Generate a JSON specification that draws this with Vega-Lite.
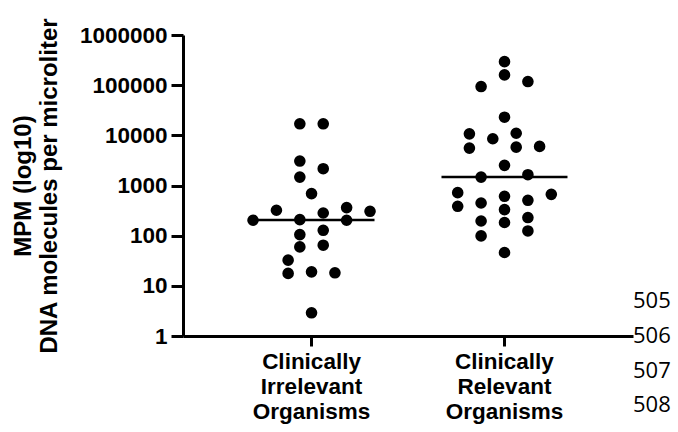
{
  "$schema": "https://vega.github.io/schema/vega-lite/v6.json",
  "width": 450,
  "height": 301,
  "autosize": "none",
  "padding": {"left": 183, "top": 35, "right": 45, "bottom": 96},
  "background": "white",
  "config": {"view": {"stroke": null}, "font": "Liberation Sans"},
  "datasets": {
    "points": [
      {"group": "Clinically Irrelevant Organisms", "col": -1, "mpm": 17000},
      {"group": "Clinically Irrelevant Organisms", "col": -1, "mpm": 3070},
      {"group": "Clinically Irrelevant Organisms", "col": -1, "mpm": 1470},
      {"group": "Clinically Irrelevant Organisms", "col": -1, "mpm": 209},
      {"group": "Clinically Irrelevant Organisms", "col": -1, "mpm": 105},
      {"group": "Clinically Irrelevant Organisms", "col": -1, "mpm": 59.7},
      {"group": "Clinically Irrelevant Organisms", "col": 1, "mpm": 17000},
      {"group": "Clinically Irrelevant Organisms", "col": 1, "mpm": 2160},
      {"group": "Clinically Irrelevant Organisms", "col": 1, "mpm": 283},
      {"group": "Clinically Irrelevant Organisms", "col": 1, "mpm": 128},
      {"group": "Clinically Irrelevant Organisms", "col": 1, "mpm": 64.5},
      {"group": "Clinically Irrelevant Organisms", "col": 0, "mpm": 689},
      {"group": "Clinically Irrelevant Organisms", "col": 0, "mpm": 19},
      {"group": "Clinically Irrelevant Organisms", "col": 0, "mpm": 2.9},
      {"group": "Clinically Irrelevant Organisms", "col": -3, "mpm": 321},
      {"group": "Clinically Irrelevant Organisms", "col": 3, "mpm": 363},
      {"group": "Clinically Irrelevant Organisms", "col": 3, "mpm": 203},
      {"group": "Clinically Irrelevant Organisms", "col": 5, "mpm": 306},
      {"group": "Clinically Irrelevant Organisms", "col": -5, "mpm": 203},
      {"group": "Clinically Irrelevant Organisms", "col": -2, "mpm": 32.5},
      {"group": "Clinically Irrelevant Organisms", "col": -2, "mpm": 17.7},
      {"group": "Clinically Irrelevant Organisms", "col": 2, "mpm": 18.2},
      {"group": "Clinically Relevant Organisms", "col": 0, "mpm": 294000},
      {"group": "Clinically Relevant Organisms", "col": 0, "mpm": 160000},
      {"group": "Clinically Relevant Organisms", "col": 0, "mpm": 23000},
      {"group": "Clinically Relevant Organisms", "col": 0, "mpm": 2520},
      {"group": "Clinically Relevant Organisms", "col": 0, "mpm": 609},
      {"group": "Clinically Relevant Organisms", "col": 0, "mpm": 331},
      {"group": "Clinically Relevant Organisms", "col": 0, "mpm": 183},
      {"group": "Clinically Relevant Organisms", "col": 0, "mpm": 46.2},
      {"group": "Clinically Relevant Organisms", "col": -2, "mpm": 93800},
      {"group": "Clinically Relevant Organisms", "col": -2, "mpm": 1470},
      {"group": "Clinically Relevant Organisms", "col": -2, "mpm": 448},
      {"group": "Clinically Relevant Organisms", "col": -2, "mpm": 196},
      {"group": "Clinically Relevant Organisms", "col": -2, "mpm": 98.8},
      {"group": "Clinically Relevant Organisms", "col": 2, "mpm": 118000},
      {"group": "Clinically Relevant Organisms", "col": 2, "mpm": 1640},
      {"group": "Clinically Relevant Organisms", "col": 2, "mpm": 507},
      {"group": "Clinically Relevant Organisms", "col": 2, "mpm": 230},
      {"group": "Clinically Relevant Organisms", "col": 2, "mpm": 124},
      {"group": "Clinically Relevant Organisms", "col": -3, "mpm": 10700},
      {"group": "Clinically Relevant Organisms", "col": -3, "mpm": 5560},
      {"group": "Clinically Relevant Organisms", "col": 1, "mpm": 11000},
      {"group": "Clinically Relevant Organisms", "col": 1, "mpm": 5820},
      {"group": "Clinically Relevant Organisms", "col": -1, "mpm": 8550},
      {"group": "Clinically Relevant Organisms", "col": 3, "mpm": 6010},
      {"group": "Clinically Relevant Organisms", "col": -4, "mpm": 721},
      {"group": "Clinically Relevant Organisms", "col": -4, "mpm": 385},
      {"group": "Clinically Relevant Organisms", "col": 4, "mpm": 667}
    ],
    "lines": [
      {"n": 505},
      {"n": 506},
      {"n": 507},
      {"n": 508}
    ]
  },
  "layer": [
    {
      "data": {"name": "points"},
      "encoding": {
        "x": {
          "field": "group",
          "type": "nominal",
          "sort": ["Clinically Irrelevant Organisms", "Clinically Relevant Organisms"],
          "scale": {"paddingInner": 0, "paddingOuter": 0.166},
          "axis": {
            "title": null,
            "labelAngle": 0,
            "labelExpr": "split(datum.label, ' ')",
            "labelFont": "Liberation Sans",
            "labelFontWeight": "bold",
            "labelFontSize": 22.5,
            "labelLineHeight": 25,
            "labelColor": "black",
            "labelPadding": 4,
            "labelBaseline": "top",
            "domainColor": "black",
            "domainWidth": 3,
            "tickColor": "black",
            "tickWidth": 3,
            "tickSize": 10,
            "grid": false
          }
        },
        "y": {
          "field": "mpm",
          "type": "quantitative",
          "scale": {"type": "log", "domain": [1, 1000000], "nice": false},
          "axis": {
            "title": ["MPM (log10)", "DNA molecules per microliter"],
            "values": [1, 10, 100, 1000, 10000, 100000, 1000000],
            "format": "d",
            "grid": false,
            "domainColor": "black",
            "domainWidth": 3,
            "tickColor": "black",
            "tickWidth": 3,
            "tickSize": 12,
            "labelFont": "Liberation Sans",
            "labelFontWeight": "bold",
            "labelFontSize": 22.5,
            "labelColor": "black",
            "labelPadding": 4,
            "titleFont": "Liberation Sans",
            "titleFontWeight": "bold",
            "titleFontSize": 24,
            "titleColor": "black",
            "titleLineHeight": 26,
            "titlePadding": 18
          }
        }
      },
      "layer": [
        {
          "mark": {"type": "circle", "size": 135, "opacity": 1, "color": "black"},
          "encoding": {
            "xOffset": {
              "field": "col",
              "type": "ordinal",
              "scale": {"domain": [-5, -4, -3, -2, -1, 0, 1, 2, 3, 4, 5], "paddingInner": 0, "paddingOuter": 0, "range": [38, 155]}
            }
          }
        },
        {
          "mark": {"type": "tick", "color": "black", "thickness": 2.5, "size": 126, "opacity": 1},
          "encoding": {
            "y": {"aggregate": "median", "field": "mpm", "type": "quantitative"}
          }
        }
      ]
    },
    {
      "data": {"name": "lines"},
      "mark": {"type": "text", "align": "left", "baseline": "middle", "font": "Open Sans", "fontSize": 22, "color": "black"},
      "encoding": {
        "x": {"datum": 1, "type": "quantitative", "scale": {"domain": [0, 1]}, "axis": null},
        "y": {"field": "n", "type": "quantitative", "scale": {"domain": [497.3, 506], "reverse": true, "zero": false, "nice": false}, "axis": null},
        "text": {"field": "n", "type": "nominal"}
      }
    }
  ],
  "resolve": {"scale": {"x": "independent", "y": "independent"}}
}
